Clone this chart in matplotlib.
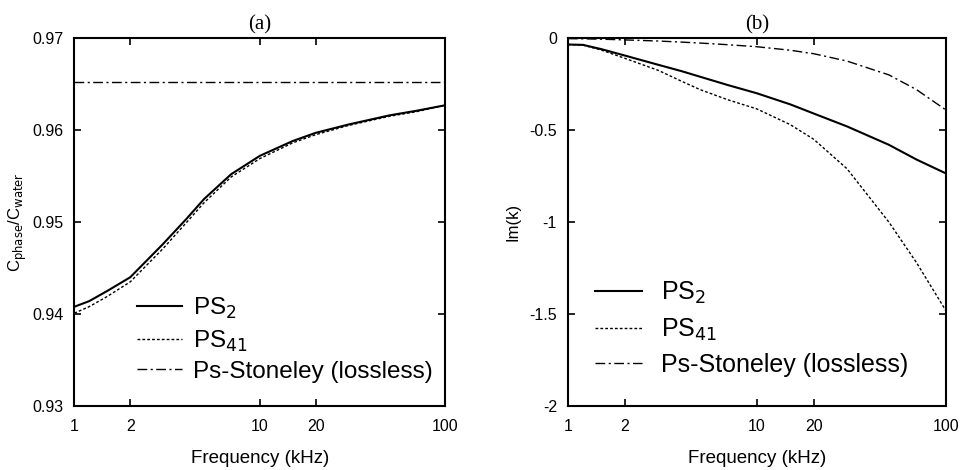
"""Phase velocity and attenuation of the pseudo-Stoneley modes, panels (a) and (b)."""
import numpy as np
import matplotlib
matplotlib.use("Agg")
import matplotlib.pyplot as plt

plt.rcParams["font.family"] = ["Liberation Sans", "DejaVu Sans"]

# frequency grid (kHz)
freq = [1, 1.2, 1.5, 2, 3, 4, 5, 7, 10, 15, 20, 30, 50, 70, 100]

# (a) normalised phase velocity
cph_ps2 = [0.9408, 0.9414, 0.9425, 0.9440, 0.9476, 0.9503, 0.9525, 0.9552, 0.9572, 0.9588,
           0.9597, 0.9606, 0.9616, 0.9621, 0.9627]
cph_ps41 = [0.9401, 0.9408, 0.9419, 0.9435, 0.9471, 0.9499, 0.9521, 0.9549, 0.9569, 0.9586,
            0.9595, 0.9605, 0.9615, 0.9620, 0.9627]
cph_ston = [0.9652] * len(freq)

# (b) imaginary part of wavenumber
imk_ps2 = [-0.035, -0.037, -0.06, -0.095, -0.145, -0.18, -0.21, -0.255, -0.30, -0.36,
           -0.41, -0.48, -0.58, -0.66, -0.735]
imk_ps41 = [-0.035, -0.038, -0.065, -0.11, -0.175, -0.235, -0.28, -0.335, -0.385, -0.47,
            -0.55, -0.71, -1.0, -1.22, -1.48]
imk_ston = [-0.003, -0.004, -0.006, -0.01, -0.016, -0.022, -0.027, -0.036, -0.047, -0.066,
            -0.085, -0.125, -0.20, -0.28, -0.39]

xticks = [1, 2, 10, 20, 100]
labels = ["PS$_2$", "PS$_{41}$", "Ps-Stoneley (lossless)"]

SOLID = dict(color="k", lw=1.5, ls="-")
DOT = dict(color="k", lw=1.0, ls=(0, (2, 1.5)))
DASHDOT = dict(color="k", lw=1.0, ls=(0, (7, 2.5, 1.5, 2.5)))

fig = plt.figure(figsize=(9.66, 4.70), dpi=100)
axa = fig.add_axes([0.077, 0.136, 0.384, 0.783])
axb = fig.add_axes([0.588, 0.136, 0.391, 0.783])


def style(ax):
    ax.set_xscale("log")
    ax.set_xlim(1, 100)
    ax.set_xticks(xticks)
    ax.set_xticklabels([str(t) for t in xticks])
    ax.minorticks_off()
    ax.tick_params(direction="in", top=True, right=True, labelsize=11.5, length=5, width=1.2)
    ax.tick_params(axis="x", pad=9)
    ax.tick_params(axis="y", pad=8)
    for s in ax.spines.values():
        s.set_linewidth(1.5)
    ax.set_xlabel("Frequency (kHz)", fontsize=13.5, labelpad=12)


axa.plot(freq, cph_ps2, **SOLID, label=labels[0])
axa.plot(freq, cph_ps41, **DOT, label=labels[1])
axa.plot(freq, cph_ston, **DASHDOT, label=labels[2])
style(axa)
axa.set_ylim(0.93, 0.97)
axa.set_yticks([0.93, 0.94, 0.95, 0.96, 0.97])
axa.set_yticklabels(["0.93", "0.94", "0.95", "0.96", "0.97"])
axa.set_ylabel(r"C$_{\mathrm{phase}}$/C$_{\mathrm{water}}$", fontsize=12, labelpad=2)
axa.set_title("(a)", family="Liberation Serif", fontsize=15, pad=6)
axa.legend(loc="lower left", bbox_to_anchor=(0.137, 0.03), frameon=False, fontsize=17.5,
           handlelength=1.85, handletextpad=0.45, labelspacing=0.3, borderpad=0)

axb.plot(freq, imk_ps2, **SOLID, label=labels[0])
axb.plot(freq, imk_ps41, **DOT, label=labels[1])
axb.plot(freq, imk_ston, **DASHDOT, label=labels[2])
style(axb)
axb.set_ylim(-2, 0)
axb.set_yticks([-2, -1.5, -1, -0.5, 0])
axb.set_yticklabels(["-2", "-1.5", "-1", "-0.5", "0"])
axb.set_ylabel("Im(k)", fontsize=12, labelpad=6)
axb.set_title("(b)", family="Liberation Serif", fontsize=15, pad=6)
axb.legend(loc="lower left", bbox_to_anchor=(0.038, 0.045), frameon=False, fontsize=18,
           handlelength=1.9, handletextpad=0.75, labelspacing=0.42, borderpad=0)

fig.savefig("out.png", dpi=100)
